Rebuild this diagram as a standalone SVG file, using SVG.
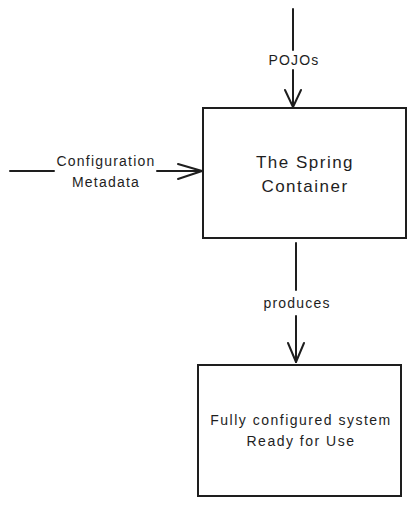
<svg xmlns="http://www.w3.org/2000/svg" width="415" height="505" viewBox="0 0 415 505">
<style>
.box{fill:#fff;stroke:#1e1e1e;stroke-width:2}
.ln{fill:none;stroke:#1e1e1e;stroke-width:2;stroke-linecap:round;stroke-linejoin:round}
.t{font-family:"Liberation Sans",Arial,sans-serif;fill:#1e1e1e;text-anchor:middle}
.big{font-size:17px;letter-spacing:1.5px}
.mid{font-size:14px;letter-spacing:1.5px}
.sm{font-size:14px;letter-spacing:1.2px}
</style>
<rect width="415" height="505" fill="#fff"/>
<g id="connectors">
  <g id="pojos">
    <path class="ln" d="M293 9 V50 M293 70 V107"/>
    <path class="ln" d="M285 90 L293 107 L301 90"/>
    <text class="t sm" x="294" y="65">POJOs</text>
  </g>
  <g id="config">
    <path class="ln" d="M10 171 H54 M157 171 H202"/>
    <path class="ln" d="M178 164 L202 171 L178 179"/>
    <text class="t sm" x="106" y="166">Configuration</text>
    <text class="t sm" x="106" y="187">Metadata</text>
  </g>
  <g id="produces">
    <path class="ln" d="M296 243 V290 M296 316 V362"/>
    <path class="ln" d="M288 343 L296 362 L304 343"/>
    <text class="t sm" x="297" y="308">produces</text>
  </g>
</g>
<g id="container">
  <rect class="box" x="203" y="108" width="203" height="130"/>
  <text class="t big" x="305" y="168">The Spring</text>
  <text class="t big" x="305" y="192">Container</text>
</g>
<g id="system">
  <rect class="box" x="198" y="365" width="203" height="131"/>
  <text class="t mid" x="301" y="425">Fully configured system</text>
  <text class="t mid" x="301" y="446">Ready for Use</text>
</g>
</svg>
